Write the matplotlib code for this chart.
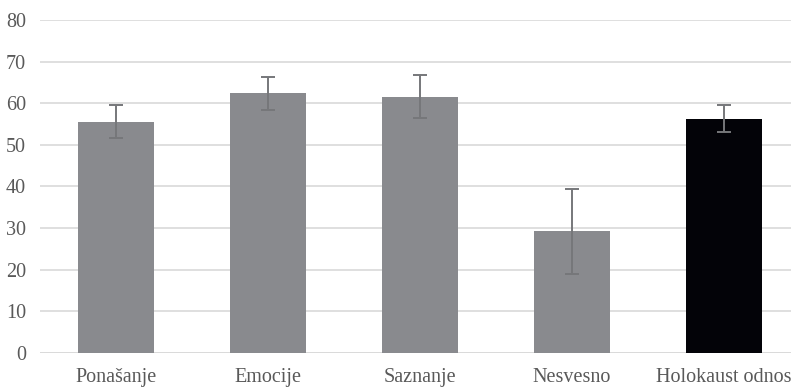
import matplotlib
matplotlib.use("Agg")
import matplotlib.pyplot as plt

# Mean scores with error margins per domain
categories = ["Ponašanje", "Emocije", "Saznanje", "Nesvesno", "Holokaust odnos"]
values = [55.6, 62.4, 61.6, 29.2, 56.3]
errors = [4.0, 4.0, 5.2, 10.2, 3.2]
bar_colors = ["#898a8e", "#898a8e", "#898a8e", "#898a8e", "#030308"]
yticks = [0, 10, 20, 30, 40, 50, 60, 70, 80]

W, H = 791, 387
fig = plt.figure(figsize=(W / 100, H / 100), dpi=100)
left, right, top, bottom = 40, 800, 20, 353
ax = fig.add_axes([left / W, (H - bottom) / H, (right - left) / W, (bottom - top) / H])

x = list(range(len(categories)))
ax.bar(x, values, width=0.5, color=bar_colors, zorder=3)
ax.errorbar(x, values, yerr=errors, fmt="none", ecolor="#76777a",
            elinewidth=1.4, capsize=5, capthick=1.4, zorder=4)

ax.set_xlim(-0.5, len(categories) - 0.5)
ax.set_ylim(0, 80)
ax.set_yticks(yticks)
ax.set_xticks(x)
ax.set_xticklabels(categories)

ax.grid(axis="y", color="#d9d9d9", linewidth=1.2, zorder=0)
ax.set_axisbelow(True)
for s in ax.spines.values():
    s.set_visible(False)
ax.axhline(0, color="#d9d9d9", linewidth=1.2, zorder=1)

ax.tick_params(axis="both", length=0, labelcolor="#595959", labelsize=14.5)
ax.tick_params(axis="y", pad=10)
ax.tick_params(axis="x", pad=10.5)
for lab in ax.get_xticklabels() + ax.get_yticklabels():
    lab.set_fontfamily("Liberation Serif")

fig.savefig("out.png", dpi=100)
